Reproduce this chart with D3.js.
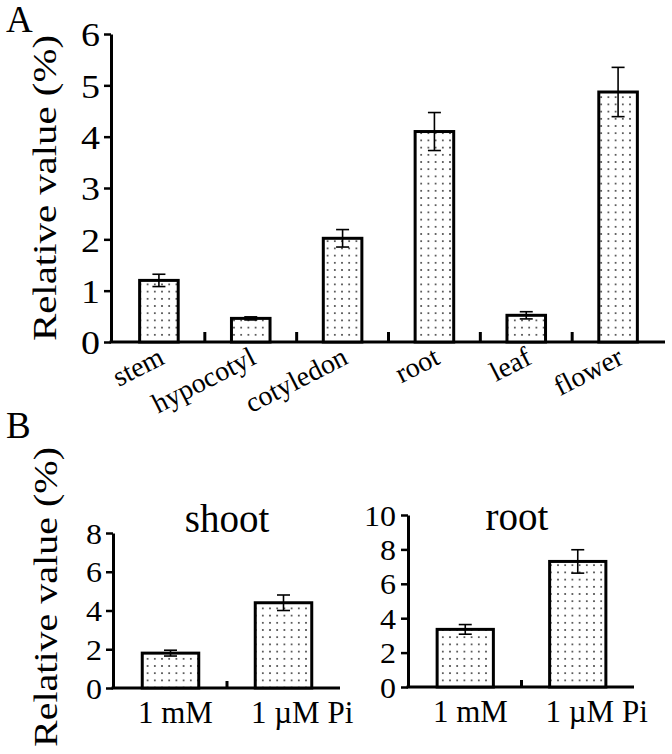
<!DOCTYPE html>
<html>
<head>
<meta charset="utf-8">
<script src="https://cdn.jsdelivr.net/npm/d3@7"></script>
<style>
  html, body { margin: 0; padding: 0; background: #fff; }
  svg { display: block; }
  text { font-family: "Liberation Serif", "Times New Roman", serif; fill: #000; }
</style>
</head>
<body>
<svg id="chart" width="672" height="754"></svg>
<script>
// ---- data ----
const tissues = ["stem", "hypocotyl", "cotyledon", "root", "leaf", "flower"];
const tissueValues = [1.2, 0.46, 2.02, 4.1, 0.52, 4.87];
const tissueErrors = [0.12, 0.03, 0.17, 0.37, 0.07, 0.48];
const tissueTicks = [0, 1, 2, 3, 4, 5, 6];

const treatments = ["1 mM", "1 \u00B5M Pi"];
const shootValues = [1.8, 4.4];
const shootErrors = [0.15, 0.4];
const shootTicks = [0, 2, 4, 6, 8];
const rootValues = [3.35, 7.3];
const rootErrors = [0.28, 0.68];
const rootTicks = [0, 2, 4, 6, 8, 10];

const yLabel = "Relative value (%)";
const SERIF = "'Liberation Serif', 'Times New Roman', serif";

const svg = d3.select("#chart");
const defs = svg.append("defs");
const pat = defs.append("pattern").attr("id", "dots")
  .attr("patternUnits", "userSpaceOnUse").attr("width", 7.2).attr("height", 7.2);
pat.append("rect").attr("width", 7.2).attr("height", 7.2).attr("fill", "#fff");
pat.append("circle").attr("cx", 3.6).attr("cy", 3.6).attr("r", 0.95).attr("fill", "#333");

function panel(opts) {
  const g = svg.append("g");
  const x = d3.scaleBand().domain(opts.cats).range(opts.xRange).padding(0);
  const y = d3.scaleLinear().domain([0, opts.yMax]).range(opts.yRange);
  const bw = x.bandwidth() * opts.barFrac;

  // y axis
  const ya = g.append("g").attr("transform", `translate(${opts.xRange[0] - opts.yGap},0)`)
    .call(d3.axisLeft(y).tickValues(opts.ticks).tickFormat(d3.format("d"))
      .tickSize(7).tickSizeOuter(0).tickPadding(opts.tickPad));
  ya.attr("font-family", null).attr("font-size", null);
  ya.select(".domain").attr("stroke", "#000").attr("stroke-width", 3);
  ya.selectAll(".tick line").attr("stroke", "#000").attr("stroke-width", 2.5);
  ya.selectAll(".tick text")
    .style("font-family", SERIF)
    .style("font-size", opts.tickFont + "px")
    .attr("dy", "0.35em")
    .attr("textLength", d => String(d).length * opts.digitW)
    .attr("lengthAdjust", "spacingAndGlyphs");

  // x axis baseline
  const xa = g.append("g").attr("transform", `translate(0,${y(0)})`);
  xa.append("line").attr("x1", opts.xRange[0] - opts.yGap - 1.5).attr("x2", opts.xRange[1] + opts.xExtra)
    .attr("stroke", "#000").attr("stroke-width", 3);
  // inner boundary ticks pointing upward
  xa.selectAll("line.bt").data(opts.cats.slice(1)).enter().append("line")
    .attr("x1", d => x(d)).attr("x2", d => x(d))
    .attr("y1", 0).attr("y2", -opts.innerTick)
    .attr("stroke", "#000").attr("stroke-width", 3);

  // bars
  g.selectAll("rect.bar").data(opts.cats).enter().append("rect")
    .attr("x", d => x(d) + x.bandwidth() / 2 - bw / 2)
    .attr("width", bw)
    .attr("y", (d, i) => y(opts.values[i]))
    .attr("height", (d, i) => y(0) - y(opts.values[i]))
    .attr("fill", "url(#dots)")
    .attr("stroke", "#000").attr("stroke-width", 3);

  // error bars
  const cap = opts.cap;
  opts.cats.forEach((d, i) => {
    const cx = x(d) + x.bandwidth() / 2;
    const hi = y(opts.values[i] + opts.errors[i]);
    const lo = y(opts.values[i] - opts.errors[i]);
    g.append("line").attr("x1", cx).attr("x2", cx).attr("y1", hi).attr("y2", lo)
      .attr("stroke", "#000").attr("stroke-width", 1.6);
    [hi, lo].forEach(yy => g.append("line").attr("x1", cx - cap / 2).attr("x2", cx + cap / 2)
      .attr("y1", yy).attr("y2", yy).attr("stroke", "#000").attr("stroke-width", 1.6));
  });

  // y label
  if (opts.yLabelX !== undefined) {
    g.append("text")
      .attr("transform", `translate(${opts.yLabelX},${opts.yLabelY}) rotate(-90)`)
      .attr("text-anchor", "middle")
      .style("font-family", SERIF)
      .style("font-size", opts.yLabelFont + "px")
      .attr("textLength", opts.yLabelLen)
      .attr("lengthAdjust", "spacingAndGlyphs")
      .text(yLabel);
  }
  return {g, x, y};
}

// ---- Panel A ----
const A = panel({
  cats: tissues, values: tissueValues, errors: tissueErrors, ticks: tissueTicks,
  xRange: [113, 664], yRange: [342, 34], yMax: 6, yGap: 2, xExtra: 1,
  barFrac: 0.42, innerTick: 10, cap: 13, tickFont: 34, digitW: 19, tickPad: 4,
  yLabelX: 56, yLabelY: 188, yLabelFont: 34, yLabelLen: 306
});
A.g.selectAll("text.xl").data(tissues).enter().append("text")
  .attr("transform", d => `translate(${A.x(d) + A.x.bandwidth() / 2 + 7},${A.y(0) + 21}) rotate(-27)`)
  .attr("text-anchor", "end")
  .style("font-family", SERIF)
  .style("font-size", "28px")
  .text(d => d);
svg.append("text").attr("x", 6).attr("y", 32).style("font-family", SERIF).style("font-size", "37px").text("A");

// ---- Panel B ----
const S = panel({
  cats: treatments, values: shootValues, errors: shootErrors, ticks: shootTicks,
  xRange: [114, 340], yRange: [688, 533], yMax: 8, yGap: 1, xExtra: 0,
  barFrac: 0.5, innerTick: 7, cap: 13, tickFont: 29, digitW: 16, tickPad: 4,
  yLabelX: 57, yLabelY: 597, yLabelFont: 34, yLabelLen: 300
});
const R = panel({
  cats: treatments, values: rootValues, errors: rootErrors, ticks: rootTicks,
  xRange: [409, 634], yRange: [687, 515], yMax: 10, yGap: 1, xExtra: 0,
  barFrac: 0.5, innerTick: 7, cap: 13, tickFont: 29, digitW: 16, tickPad: 5
});
[S, R].forEach(P => {
  P.g.selectAll("text.xl").data(treatments).enter().append("text")
    .attr("x", d => P.x(d) + 24)
    .attr("y", P.y(0) + 35)
    .style("font-family", SERIF)
    .style("font-size", "31px")
    .text(d => d);
});
svg.append("text").attr("x", 227).attr("y", 532).attr("text-anchor", "middle")
  .style("font-family", SERIF).style("font-size", "39px").text("shoot");
svg.append("text").attr("x", 517).attr("y", 530).attr("text-anchor", "middle")
  .style("font-family", SERIF).style("font-size", "39px").text("root");
svg.append("text").attr("x", 6).attr("y", 438).style("font-family", SERIF).style("font-size", "37px").text("B");
</script>
</body>
</html>
